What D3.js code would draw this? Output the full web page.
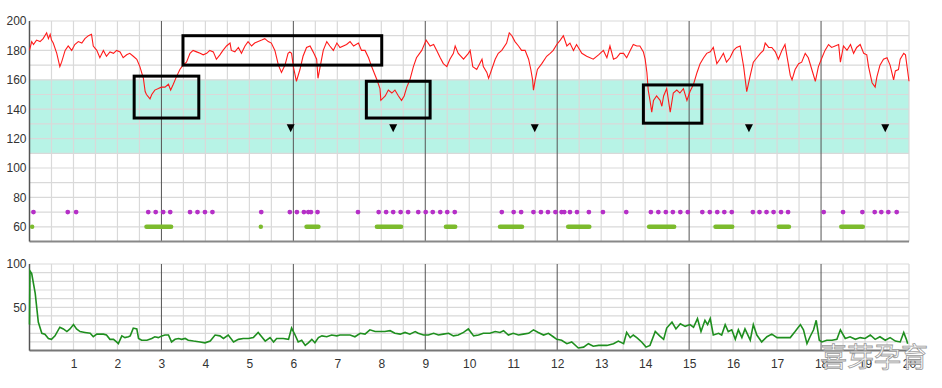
<!DOCTYPE html>
<html>
<head>
<meta charset="utf-8">
<script src="https://cdn.jsdelivr.net/npm/d3@7"></script>
<style>
  body { margin: 0; background: #fff; }
  svg { font-family: "Noto Sans", "Open Sans", sans-serif; }
  .tick text { fill: #333; font-size: 12px; }
</style>
</head>
<body>
<div class="chart"></div>
<script>
// fetal heart rate (minute, bpm)
const fhr = [
  [0.00,180],[0.05,186],[0.09,184],[0.16,187],[0.24,186],[0.31,188],[0.39,192],[0.43,188],[0.47,191],[0.50,187],
  [0.54,185],[0.62,178],[0.69,169],[0.73,172],[0.81,180],[0.88,183],[0.96,180],[1.03,184],[1.11,186],[1.19,185],
  [1.26,188],[1.34,190],[1.41,191],[1.45,183],[1.53,180],[1.60,175],[1.68,180],[1.75,176],[1.83,179],[1.91,178],
  [1.98,180],[2.06,179],[2.13,175],[2.21,177],[2.28,178],[2.36,176],[2.44,174],[2.51,169],[2.59,161],[2.63,152],
  [2.66,150],[2.74,147],[2.78,150],[2.85,153],[2.93,154],[3.00,155],[3.08,155],[3.16,157],[3.21,153],[3.27,157],
  [3.34,162],[3.42,167],[3.49,170],[3.57,172],[3.65,178],[3.72,180],[3.80,179],[3.88,178],[3.95,177],[4.03,178],
  [4.10,180],[4.18,179],[4.25,174],[4.33,177],[4.40,180],[4.48,183],[4.56,185],[4.59,180],[4.67,179],[4.75,182],
  [4.82,178],[4.90,183],[4.97,186],[5.05,183],[5.12,185],[5.20,186],[5.28,187],[5.35,188],[5.43,186],[5.50,185],
  [5.58,180],[5.66,170],[5.73,165],[5.81,170],[5.88,178],[5.92,179],[5.96,178],[6.00,169],[6.07,159],[6.15,167],
  [6.22,176],[6.30,182],[6.38,183],[6.45,179],[6.53,174],[6.56,161],[6.61,169],[6.68,180],[6.76,186],[6.83,183],
  [6.91,180],[6.99,185],[7.06,182],[7.21,184],[7.29,186],[7.37,183],[7.48,185],[7.55,180],[7.63,180],[7.71,175],
  [7.78,169],[7.90,160],[7.97,154],[7.99,146],[8.09,149],[8.16,153],[8.24,151],[8.31,153],[8.39,149],[8.46,146],
  [8.52,149],[8.58,155],[8.65,160],[8.73,169],[8.80,175],[8.92,180],[9.02,187],[9.11,183],[9.19,184],[9.26,180],
  [9.34,175],[9.41,171],[9.49,169],[9.56,174],[9.64,178],[9.68,183],[9.75,178],[9.87,174],[9.98,178],[10.02,180],
  [10.08,169],[10.17,167],[10.29,174],[10.32,169],[10.40,165],[10.44,161],[10.51,167],[10.59,174],[10.66,178],[10.74,180],
  [10.85,185],[10.91,192],[10.97,190],[11.04,186],[11.12,183],[11.19,180],[11.27,180],[11.35,174],[11.40,167],[11.44,160],
  [11.46,153],[11.50,160],[11.55,167],[11.65,171],[11.76,176],[11.84,178],[11.91,180],[11.99,184],[12.07,187],[12.14,190],
  [12.22,183],[12.29,185],[12.37,180],[12.44,184],[12.56,178],[12.67,176],[12.82,174],[12.94,177],[13.05,180],[13.13,175],
  [13.20,183],[13.28,174],[13.35,175],[13.43,178],[13.51,178],[13.58,175],[13.66,180],[13.73,184],[13.81,183],[13.88,183],
  [13.96,179],[14.00,174],[14.04,165],[14.07,153],[14.11,146],[14.15,138],[14.19,146],[14.26,149],[14.34,146],[14.38,142],
  [14.42,149],[14.49,154],[14.57,138],[14.64,151],[14.72,153],[14.79,151],[14.87,154],[14.95,146],[15.02,152],[15.10,157],
  [15.18,165],[15.25,171],[15.33,175],[15.40,178],[15.48,179],[15.55,182],[15.63,171],[15.70,174],[15.78,178],[15.85,172],
  [15.93,175],[16.01,180],[16.08,182],[16.16,183],[16.24,169],[16.31,152],[16.39,163],[16.46,172],[16.54,175],[16.62,178],
  [16.69,180],[16.73,185],[16.81,182],[16.88,182],[16.96,179],[17.03,174],[17.11,180],[17.18,184],[17.22,177],[17.30,163],
  [17.34,160],[17.41,167],[17.49,171],[17.56,172],[17.64,178],[17.71,175],[17.79,167],[17.87,159],[17.94,169],[18.02,175],
  [18.09,180],[18.17,184],[18.24,182],[18.32,183],[18.40,184],[18.44,172],[18.51,183],[18.59,180],[18.67,184],[18.74,178],
  [18.81,182],[18.89,184],[18.97,178],[19.04,177],[19.08,169],[19.16,158],[19.23,155],[19.27,162],[19.34,170],[19.42,174],
  [19.50,175],[19.57,170],[19.65,160],[19.69,166],[19.76,167],[19.80,174],[19.88,178],[19.92,177],[19.96,168],[20.00,159]
];

// uterine activity (minute, value)
const toco = [
  [0.00,30],[0.01,92],[0.05,89],[0.13,66],[0.20,33],[0.28,20],[0.35,19],[0.43,14],[0.50,13],[0.58,17],
  [0.69,27],[0.77,25],[0.85,22],[0.92,25],[1.00,30],[1.07,25],[1.15,22],[1.26,21],[1.38,20],[1.45,16],
  [1.53,19],[1.60,19],[1.68,19],[1.75,18],[1.83,13],[1.91,13],[1.98,10],[2.02,8],[2.10,17],[2.17,15],
  [2.25,16],[2.29,17],[2.36,26],[2.44,25],[2.48,14],[2.55,12],[2.67,12],[2.78,14],[2.85,16],[2.93,15],
  [3.01,17],[3.08,18],[3.16,18],[3.23,10],[3.31,13],[3.39,14],[3.46,13],[3.54,14],[3.61,12],[3.73,11],
  [3.88,10],[3.99,9],[4.11,11],[4.22,18],[4.33,17],[4.41,14],[4.52,18],[4.64,10],[4.75,13],[4.86,14],
  [4.98,14],[5.09,15],[5.20,21],[5.28,16],[5.36,11],[5.47,15],[5.55,10],[5.62,14],[5.77,14],[5.89,13],
  [5.96,26],[6.04,18],[6.11,10],[6.19,12],[6.27,6],[6.34,9],[6.42,13],[6.49,9],[6.57,15],[6.65,17],
  [6.76,16],[6.87,18],[6.99,17],[7.06,18],[7.18,18],[7.29,18],[7.40,16],[7.52,20],[7.63,19],[7.74,24],
  [7.86,22],[7.97,22],[8.08,22],[8.20,23],[8.31,20],[8.43,19],[8.54,21],[8.65,19],[8.77,22],[8.84,20],
  [8.96,18],[9.07,18],[9.19,20],[9.30,18],[9.41,19],[9.53,20],[9.64,17],[9.75,18],[9.87,21],[9.98,25],
  [10.10,17],[10.21,18],[10.32,20],[10.47,20],[10.59,22],[10.70,21],[10.78,23],[10.89,18],[11.00,20],[11.12,18],
  [11.23,19],[11.35,20],[11.46,24],[11.57,21],[11.69,18],[11.80,20],[11.91,16],[11.99,13],[12.10,12],[12.22,8],
  [12.33,10],[12.48,3],[12.60,4],[12.71,8],[12.82,5],[12.94,6],[13.13,6],[13.28,8],[13.39,11],[13.51,8],
  [13.58,21],[13.66,15],[13.73,18],[13.81,15],[13.92,10],[14.02,4],[14.11,6],[14.23,22],[14.33,17],[14.42,13],
  [14.49,26],[14.61,33],[14.70,25],[14.80,31],[14.91,28],[15.02,30],[15.10,27],[15.19,37],[15.27,22],[15.36,35],
  [15.42,30],[15.48,37],[15.55,18],[15.67,20],[15.74,18],[15.82,30],[15.89,22],[15.97,24],[16.05,13],[16.12,24],
  [16.20,15],[16.27,25],[16.39,12],[16.46,30],[16.54,18],[16.65,10],[16.77,16],[16.88,19],[17.00,15],[17.15,15],
  [17.30,15],[17.41,22],[17.53,30],[17.60,24],[17.68,8],[17.75,16],[17.83,24],[17.89,35],[17.96,12],[18.02,10],
  [18.13,12],[18.25,12],[18.36,13],[18.44,24],[18.55,14],[18.66,16],[18.78,13],[18.89,15],[19.00,14],[19.12,18],
  [19.23,13],[19.34,16],[19.46,12],[19.57,15],[19.69,11],[19.80,10],[19.88,21],[19.94,13],[19.97,8]
];

// fetal movement marks (minute) at 70 bpm
const moveDots = [0.09,0.87,1.06,2.70,2.87,3.04,3.20,3.65,3.82,3.99,4.16,5.27,5.92,6.08,6.24,6.34,6.40,6.55,
  7.47,7.94,8.11,8.27,8.44,8.61,8.84,9.01,9.17,9.34,9.50,9.67,10.74,11.01,11.18,11.46,11.63,11.79,11.96,
  12.10,12.16,12.29,12.45,12.72,13.04,13.57,14.13,14.30,14.47,14.63,14.80,14.97,15.30,15.47,15.64,15.80,15.97,
  16.45,16.60,16.76,16.92,17.09,17.25,18.06,18.50,18.94,19.22,19.37,19.53,19.72];

// movement spans (start, end minute) at 60 bpm
const moveSpans = [[0.06,0.06],[2.66,3.22],[5.26,5.26],[6.30,6.57],[7.90,8.45],[9.47,9.68],[10.70,11.20],
  [12.25,12.73],[14.09,14.66],[15.60,15.98],[17.04,17.27],[18.46,18.95]];

// marked boxes [x0, x1, bpm top, bpm bottom]
const boxes = [[2.38,3.85,162.5,134],[3.49,8.01,190,170],[7.66,9.11,159,134],[13.96,15.29,156.5,130.5]];

// triangle markers (minute)
const markers = [5.94,8.27,11.49,16.36,19.46];

const xTicks = d3.range(1, 21);
const fhrTicks = [60, 80, 100, 120, 140, 160, 180, 200];
const tocoTicks = [50, 100];
const normalBand = [110, 160];

const width = 942, height = 388;

const svg = d3.select('.chart')
  .append('svg')
  .attr('width', width)
  .attr('height', height);

const x = d3.scaleLinear().domain([0, 20]).range([29.5, 909]);
const yTop = d3.scaleLinear().domain([50, 200]).range([241.5, 21]);
const yBot = d3.scaleLinear().domain([0, 100]).range([350.6, 264]);

// normal range band
svg.append('rect')
  .attr('x', x(0))
  .attr('y', yTop(normalBand[1]))
  .attr('width', x(20) - x(0))
  .attr('height', yTop(normalBand[0]) - yTop(normalBand[1]))
  .attr('fill', '#b7f3e6');

// grids
const grid = svg.append('g').attr('stroke', '#d9d9d9').attr('stroke-width', 1.2);
const halfMins = d3.range(0.5, 20.01, 0.5).filter(d => d % 3 !== 0);

grid.selectAll('.vt').data(halfMins).join('line')
  .attr('x1', d => x(d)).attr('x2', d => x(d))
  .attr('y1', yTop(200)).attr('y2', yTop(50));
grid.selectAll('.vb').data(halfMins).join('line')
  .attr('x1', d => x(d)).attr('x2', d => x(d))
  .attr('y1', yBot(100)).attr('y2', yBot(0));
grid.selectAll('.ht').data(d3.range(60, 201, 10)).join('line')
  .attr('x1', x(0)).attr('x2', x(20))
  .attr('y1', d => yTop(d)).attr('y2', d => yTop(d));
grid.selectAll('.hb').data(d3.range(10, 101, 10)).join('line')
  .attr('x1', x(0)).attr('x2', x(20))
  .attr('y1', d => yBot(d)).attr('y2', d => yBot(d));

// 3-minute lines
const threeMins = [3, 6, 9, 12, 15, 18];
[[yTop(200), yTop(50)], [yBot(100), yBot(0)]].forEach(([a, b]) => {
  svg.append('g').selectAll('line').data(threeMins).join('line')
    .attr('x1', d => x(d)).attr('x2', d => x(d))
    .attr('y1', a).attr('y2', b)
    .attr('stroke', '#555').attr('stroke-width', 1);
});

// axis frames
svg.append('line').attr('x1', x(0)).attr('x2', x(20)).attr('y1', yTop(50)).attr('y2', yTop(50))
  .attr('stroke', '#888').attr('stroke-width', 2);
svg.append('line').attr('x1', x(0)).attr('x2', x(20)).attr('y1', yBot(0)).attr('y2', yBot(0))
  .attr('stroke', '#777').attr('stroke-width', 2);
svg.append('line').attr('x1', x(0)).attr('x2', x(0)).attr('y1', yTop(200)).attr('y2', yTop(50))
  .attr('stroke', '#555').attr('stroke-width', 1.5);
svg.append('line').attr('x1', x(0)).attr('x2', x(0)).attr('y1', yBot(100)).attr('y2', yBot(0))
  .attr('stroke', '#555').attr('stroke-width', 1.5);

// tick labels
svg.append('g')
  .attr('transform', `translate(${x(0) - 1},0)`)
  .call(d3.axisLeft(yTop).tickValues(fhrTicks).tickSize(0).tickPadding(2))
  .call(g => g.select('.domain').remove());
svg.append('g')
  .attr('transform', `translate(${x(0) - 1},0)`)
  .call(d3.axisLeft(yBot).tickValues(tocoTicks).tickSize(0).tickPadding(2))
  .call(g => g.select('.domain').remove());
svg.append('g')
  .attr('transform', `translate(0,${yBot(0) + 6})`)
  .call(d3.axisBottom(x).tickValues(xTicks).tickSize(0).tickFormat(d3.format('d')))
  .call(g => g.select('.domain').remove());

// movement marks
svg.append('g').selectAll('circle').data(moveDots).join('circle')
  .attr('cx', d => x(d)).attr('cy', yTop(70)).attr('r', 2.4)
  .attr('fill', '#b52fc7');
svg.append('g').selectAll('line').data(moveSpans).join('line')
  .attr('x1', d => x(d[0])).attr('x2', d => x(d[1]))
  .attr('y1', yTop(60)).attr('y2', yTop(60))
  .attr('stroke', '#7cbb2d').attr('stroke-width', 4.5).attr('stroke-linecap', 'round');

// heart rate line
svg.append('path')
  .datum(fhr)
  .attr('fill', 'none')
  .attr('stroke', '#ff1a1a')
  .attr('stroke-width', 1.1)
  .attr('d', d3.line().x(d => x(d[0])).y(d => yTop(d[1])));

// marked boxes
svg.append('g').selectAll('rect').data(boxes).join('rect')
  .attr('x', d => x(d[0])).attr('y', d => yTop(d[2]))
  .attr('width', d => x(d[1]) - x(d[0]))
  .attr('height', d => yTop(d[3]) - yTop(d[2]))
  .attr('fill', 'none').attr('stroke', '#000').attr('stroke-width', 3);

// triangles
svg.append('g').selectAll('path').data(markers).join('path')
  .attr('transform', d => `translate(${x(d)},${yTop(127)})`)
  .attr('d', 'M-4,-4L4,-4L0,4Z')
  .attr('fill', '#000');

// toco line
svg.append('path')
  .datum(toco)
  .attr('fill', 'none')
  .attr('stroke', '#1f8f1f')
  .attr('stroke-width', 1.6)
  .attr('d', d3.line().x(d => x(d[0])).y(d => yBot(d[1])));

// watermark
svg.append('text')
  .attr('x', 928).attr('y', 367)
  .attr('text-anchor', 'end')
  .attr('font-family', '"Noto Sans CJK SC", sans-serif')
  .attr('font-size', 27)
  .attr('fill', '#fff')
  .attr('fill-opacity', 0.85)
  .attr('stroke', '#999')
  .attr('stroke-width', 0.8)
  .text('喜芽孕育');
</script>
</body>
</html>
